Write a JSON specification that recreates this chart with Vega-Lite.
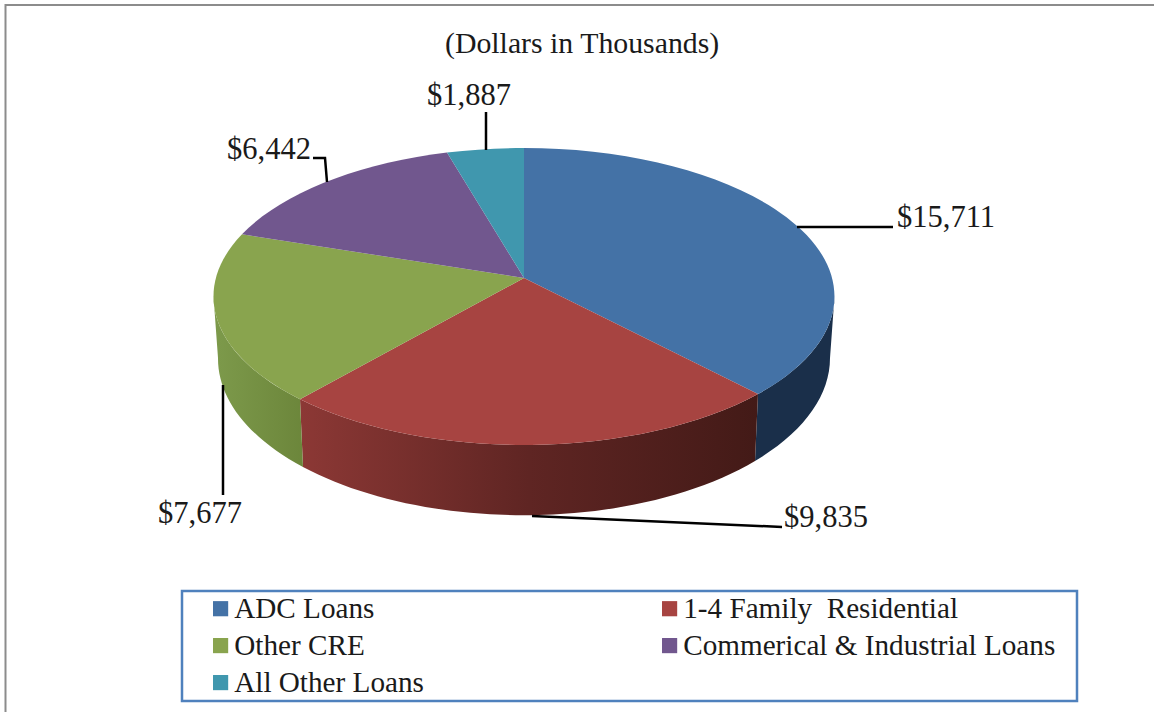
{
 "$schema":"https://vega.github.io/schema/vega-lite/v6.json",
 "width":1154,"height":712,"padding":0,"autosize":"none","background":"white",
 "view":{"stroke":null},
 "title":{"text":"(Dollars in Thousands)","font":"Liberation Serif","fontSize":29.8,"fontWeight":"normal","color":"#1a1a1a","anchor":"start","frame":"group","offset":0,"dx":445,"dy":83,"baseline":"alphabetic"},
 "data":{"values":[
  {"category":"ADC Loans","value":15711,"label":"$15,711"},
  {"category":"1-4 Family  Residential","value":9835,"label":"$9,835"},
  {"category":"Other CRE","value":7677,"label":"$7,677"},
  {"category":"Commerical & Industrial Loans","value":6442,"label":"$6,442"},
  {"category":"All Other Loans","value":1887,"label":"$1,887"}
 ]},
 "resolve":{"scale":{"shape":"independent"}},
 "layer":[
  {"transform":[{"filter":"datum.value==15711"}],
   "mark":{"type":"point","size":4,"opacity":1,"filled":false,"fill":null,"stroke":"#8c8c8c","strokeWidth":2,"shape":"M-571.5,356 L-571.5,-351 L577,-351"}},
  {"transform":[{"filter":"datum.value==15711"}],
   "mark":{"type":"point","size":4,"opacity":1,"filled":false,"fill":null,"stroke":"#4f81bd","strokeWidth":2.5,"shape":"M-395,235 L500,235 L500,345 L-395,345 Z"}},
  {"transform":[{"filter":"datum.value==15711"}],
   "mark":{"type":"point","size":4,"opacity":1,"filled":true,"fill":"#1a2f4a","stroke":null,"shape":"M181,38.1 A310.5,148.5 0 0 0 257.5,-59.5 L253,2 A306,157 0 0 1 178,105 Z"}},
  {"transform":[{"filter":"datum.value==9835"}],
   "mark":{"type":"point","size":4,"opacity":1,"filled":true,"stroke":null,"fill":{"gradient":"linear","x1":0,"y1":0,"x2":1,"y2":0,"stops":[{"offset":0,"color":"#8c3835"},{"offset":0.5,"color":"#5f2523"},{"offset":1,"color":"#431a17"}]},"shape":"M181,38.1 A310.5,148.5 0 0 1 -277,43.3 L-274,111 A306,157 0 0 0 178,105 Z"}},
  {"transform":[{"filter":"datum.value==7677"}],
   "mark":{"type":"point","size":4,"opacity":1,"filled":true,"stroke":null,"fill":{"gradient":"linear","x1":0,"y1":0,"x2":1,"y2":0,"stops":[{"offset":0,"color":"#7d9a4b"},{"offset":1,"color":"#6c863b"}]},"shape":"M-277,43.3 A310.5,148.5 0 0 1 -363.5,-59.5 L-359,2 A306,157 0 0 0 -274,111 Z"}},
  {"mark":{"type":"point","size":4,"opacity":1,"filled":true,"stroke":null},
   "encoding":{
    "fill":{"field":"category","type":"nominal","sort":null,
     "scale":{"domain":["ADC Loans","1-4 Family  Residential","Other CRE","Commerical & Industrial Loans","All Other Loans"],"range":["#4472a6","#a74441","#89a44e","#71578e","#4097ae"]},
     "legend":{"title":null,"orient":"none","legendX":206,"legendY":594,"columns":2,"values":["ADC Loans","Other CRE","All Other Loans","1-4 Family  Residential","Commerical & Industrial Loans"],"symbolType":"square","symbolSize":230,"symbolStrokeWidth":0,"symbolOpacity":1,"labelFont":"Liberation Serif","labelFontSize":29.2,"labelColor":"#1a1a1a","labelOffset":-1,"labelLimit":500,"labelBaseline":"middle","labelExpr":"replace(datum.label,'  ','\u00a0\u00a0')","rowPadding":7,"columnPadding":231,"padding":0}},
    "shape":{"field":"category","type":"nominal","legend":null,
     "scale":{"domain":["ADC Loans","1-4 Family  Residential","Other CRE","Commerical & Industrial Loans","All Other Loans"],
      "range":[
       "M-53,-78 L-53,-208 A310.5,148.5 0 0 1 181,38.1 Z",
       "M-53,-78 L181,38.1 A310.5,148.5 0 0 1 -277,43.3 Z",
       "M-53,-78 L-277,43.3 A310.5,148.5 0 0 1 -335,-121.7 Z",
       "M-53,-78 L-335,-121.7 A310.5,148.5 0 0 1 -130,-203.4 Z",
       "M-53,-78 L-130,-203.4 A310.5,148.5 0 0 1 -53,-208 Z"]}}
   }},
  {"mark":{"type":"point","size":4,"opacity":1,"filled":false,"fill":null,"stroke":"#000000","strokeWidth":2.5},
   "encoding":{
    "shape":{"field":"category","type":"nominal","legend":null,
     "scale":{"domain":["ADC Loans","1-4 Family  Residential","Other CRE","Commerical & Industrial Loans","All Other Loans"],
      "range":[
       "M220,-129 L316,-129",
       "M-45,160 L205,171",
       "M-354,29 L-354,139",
       "M-264,-198 L-252,-198 L-250,-174",
       "M-91,-244 L-91,-206"]}}
   }},
  {"mark":{"type":"text","font":"Liberation Serif","fontSize":30.5,"align":"left","baseline":"alphabetic","color":"#1a1a1a"},
   "encoding":{
    "text":{"field":"label","type":"nominal"},
    "x":{"field":"value","type":"quantitative","axis":null,"scale":{"domain":[1887,6442,7677,9835,15711],"range":[427,227,158,784,897],"nice":false,"zero":false}},
    "y":{"field":"value","type":"quantitative","axis":null,"scale":{"domain":[1887,6442,7677,9835,15711],"range":[105,159,523,527,227],"nice":false,"zero":false}}
   }}
 ]
}
